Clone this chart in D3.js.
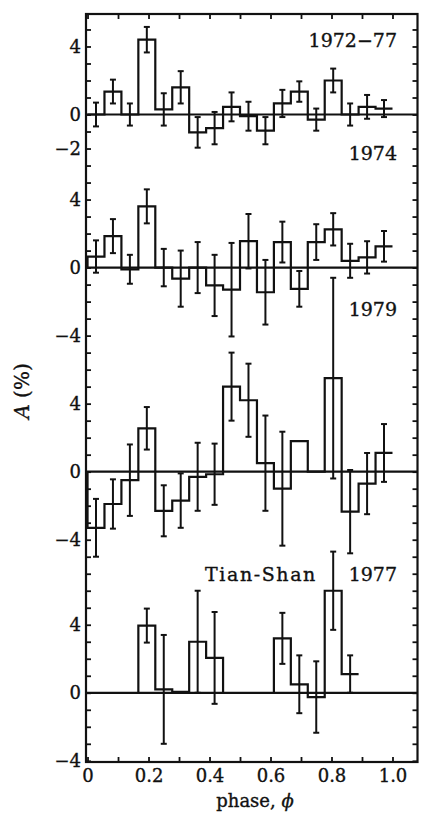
<!DOCTYPE html>
<html lang="en">
<head>
  <meta charset="UTF-8">
  <title>Phase asymmetry A (%)</title>
  <script src="https://d3js.org/d3.v7.min.js"></script>
  <style>
    body { margin: 0; background: #fff; }
    svg text { font-family: "DejaVu Serif", serif; fill: #111; stroke: #111; stroke-width: 0.35px; }
    .axis path { display: none; }
    .axis line { stroke: #111; stroke-width: 1.8; }
    .axis text { font-size: 18px; }
    .step { fill: none; stroke: #111; stroke-width: 2.2; }
    .err { stroke: #111; stroke-width: 2; }
  </style>
</head>
<body>
<div id="chart"></div>
<script>
  // phase bins (18 per period)
  const nBins = 18;

  // x ticks and their labels
  const xTicks = [0, 0.1, 0.2, 0.3, 0.4, 0.5, 0.6, 0.7, 0.8, 0.9, 1.0];
  const xTickLabels = ["0", "", "0.2", "", "0.4", "", "0.6", "", "0.8", "", "1.0"];

  // panels, top to bottom
  const panelNames = ["1972\u221277", "1974", "1979", "1977"];
  const panelZero = [0, -9, -21, -34];           // where each panel's 0 sits on the shared scale
  const panelTicks = [[4, 0, -2], [4, 0, -4], [4, 0, -4], [4, 0, -4]];

  // amplitude per bin (%) and error bar half-widths, null = no data
  const amp7277 = [0, 1.35, 0, 4.4, 0.3, 1.6, -1.05, -0.8, 0.45, -0.1, -0.95, 0.65, 1.35, -0.3, 2.0, 0, 0.45, 0.35];
  const err7277 = [0.7, 0.7, 0.65, 0.75, 0.95, 0.95, 0.9, 0.95, 0.85, 0.85, 0.8, 0.8, 0.6, 0.65, 0.7, 0.65, 0.7, 0.5];

  const amp1974 = [0.65, 1.85, -0.1, 3.6, 0, -0.65, 0, -1.05, -1.3, 1.55, -1.45, 1.5, -1.25, 1.5, 2.25, 0.4, 0.6, 1.25];
  const err1974 = [0.95, 1.0, 0.85, 1.0, 1.1, 1.65, 1.5, 1.8, 2.75, 1.6, 1.9, 1.2, 1.05, 1.05, 0.95, 1.0, 0.95, 0.9];

  const amp1979 = [-3.3, -1.9, -0.5, 2.55, -2.3, -1.7, -0.3, -0.15, 5.0, 4.2, 0.5, -1.0, 1.8, 0, 5.5, -2.35, -0.7, 1.1];
  const err1979 = [1.7, 1.45, 2.1, 1.25, 1.5, 1.6, 2.0, 1.8, 2.0, 2.15, 2.8, 3.35, null, null, 5.9, 2.45, 1.8, 1.7];

  const ampTian = [null, null, null, 3.95, 0.2, 0.05, 3.0, 2.05, null, null, null, 3.2, 0.5, -0.25, 6.0, 1.1, null, null];
  const errTian = [null, null, null, 1.0, 3.2, null, 3.0, 2.7, null, null, null, 1.5, 1.7, 2.1, 2.3, 1.1, null, null];

  const amps = [amp7277, amp1974, amp1979, ampTian];
  const errs = [err7277, err1974, err1979, errTian];

  const W = 421, H = 818;

  const svg = d3.select("#chart").append("svg")
    .attr("width", W).attr("height", H);

  // one x scale, one shared y scale in "units"; panels are shifted by panelZero
  const x = d3.scaleLinear().domain([-0.005, 1.082]).range([86, 417.5]);
  const y = d3.scaleLinear().domain([5.91, -38.07]).range([14, 762]);

  const [fx0, fx1] = x.range();
  const [fy0, fy1] = y.range();

  // zero lines
  svg.selectAll(".zero")
    .data(panelZero)
    .enter().append("line")
    .attr("x1", fx0).attr("x2", fx1)
    .attr("y1", d => y(d)).attr("y2", d => y(d))
    .attr("stroke", "#111").attr("stroke-width", 2.2);

  // left axis: ticks every unit, labels only where the panel wants them
  const labelAt = new Map();
  panelTicks.forEach((ts, p) => ts.forEach(t => labelAt.set(t + panelZero[p], t)));
  const yTickVals = d3.range(-38, 6);
  const fmt = v => (v < 0 ? "\u2212" + Math.abs(v) : String(v));

  svg.append("g")
    .attr("class", "axis")
    .attr("transform", `translate(${fx0},0)`)
    .call(d3.axisLeft(y).tickValues(yTickVals).tickSize(-5).tickPadding(5)
      .tickFormat(d => labelAt.has(d) ? fmt(labelAt.get(d)) : ""));

  svg.append("g")
    .attr("class", "axis")
    .attr("transform", `translate(${fx1},0)`)
    .call(d3.axisRight(y).tickValues(yTickVals).tickSize(-5).tickFormat(""));

  // bottom and top axes
  svg.append("g")
    .attr("class", "axis")
    .attr("transform", `translate(0,${fy1})`)
    .call(d3.axisBottom(x).tickValues(xTicks).tickSize(-5).tickPadding(7)
      .tickFormat((d, i) => xTickLabels[i]));

  svg.append("g")
    .attr("class", "axis")
    .attr("transform", `translate(0,${fy0})`)
    .call(d3.axisTop(x).tickValues(xTicks).tickSize(-5).tickFormat(""));

  // frame
  svg.append("rect")
    .attr("x", fx0).attr("y", fy0)
    .attr("width", fx1 - fx0).attr("height", fy1 - fy0)
    .attr("fill", "none").attr("stroke", "#111").attr("stroke-width", 2.2);

  // histograms
  const line = d3.line();
  amps.forEach((vals, p) => {
    const off = panelZero[p];
    const lastIdx = d3.max(vals.map((v, i) => v == null ? -1 : i));
    let pts = [];
    const runs = [];
    vals.forEach((v, i) => {
      const x0 = x(i / nBins), x1 = x((i + 1) / nBins);
      if (v == null) {
        if (pts.length) { runs.push(pts); pts = []; }
        return;
      }
      if (!pts.length) pts.push([x0, y(off)]);
      pts.push([x0, y(v + off)], [x1, y(v + off)]);
      const next = vals[i + 1];
      if (next == null && i !== lastIdx) pts.push([x1, y(off)]);
    });
    if (pts.length) runs.push(pts);

    svg.selectAll(null)
      .data(runs)
      .enter().append("path")
      .attr("class", "step")
      .attr("d", d => line(d));

    // error bars
    const bars = vals.map((v, i) => ({ i, v, e: errs[p][i] }))
      .filter(d => d.v != null && d.e != null);
    const g = svg.append("g");
    const cap = 3;
    bars.forEach(d => {
      const cx = x((d.i + 0.5) / nBins);
      const yt = y(d.v + d.e + off), yb = y(d.v - d.e + off);
      g.append("line").attr("class", "err")
        .attr("x1", cx).attr("x2", cx).attr("y1", yt).attr("y2", yb);
      g.append("line").attr("class", "err")
        .attr("x1", cx - cap).attr("x2", cx + cap).attr("y1", yt).attr("y2", yt);
      g.append("line").attr("class", "err")
        .attr("x1", cx - cap).attr("x2", cx + cap).attr("y1", yb).attr("y2", yb);
    });
  });

  // panel titles
  const titleY = [47, 160, 316, 581];
  panelNames.forEach((t, p) => {
    svg.append("text")
      .attr("x", 397).attr("y", titleY[p])
      .attr("text-anchor", "end")
      .style("font-size", "19px")
      .text(t);
  });
  svg.append("text")
    .attr("x", 205).attr("y", 581)
    .style("font-size", "19px")
    .style("letter-spacing", "1.6px")
    .text("Tian-Shan");

  // axis titles
  const xt = svg.append("text")
    .attr("x", 255).attr("y", 807)
    .attr("text-anchor", "middle")
    .style("font-size", "18px");
  xt.append("tspan").text("phase, ");
  xt.append("tspan").style("font-style", "italic").text("\u03D5");

  const yt = svg.append("text")
    .attr("transform", "translate(29,391) rotate(-90)")
    .attr("text-anchor", "middle")
    .style("font-size", "20px");
  yt.append("tspan").style("font-style", "italic").text("A");
  yt.append("tspan").text(" (%)");
</script>
</body>
</html>
